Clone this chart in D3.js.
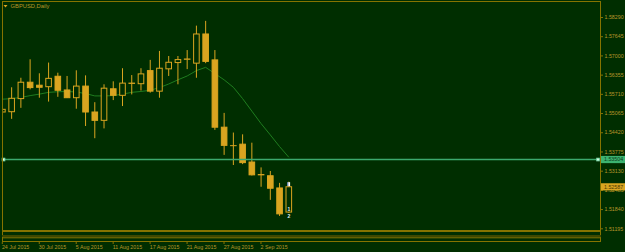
<!DOCTYPE html>
<html><head><meta charset="utf-8">
<script src="https://cdn.jsdelivr.net/npm/d3@7"></script>
<style>
html,body{margin:0;padding:0;background:#002e00;overflow:hidden}
svg{display:block}
text{font-family:"Liberation Sans",Arial,sans-serif}
</style></head>
<body><svg id="c" width="625" height="252"></svg>
<script>
const title = "GBPUSD,Daily";
const dates = ["24 Jul","27 Jul","28 Jul","29 Jul","30 Jul","31 Jul","3 Aug","4 Aug","5 Aug","6 Aug","7 Aug","10 Aug","11 Aug","12 Aug","13 Aug","14 Aug","17 Aug","18 Aug","19 Aug","20 Aug","21 Aug","24 Aug","25 Aug","26 Aug","27 Aug","28 Aug","31 Aug","1 Sep","2 Sep","3 Sep","4 Sep","7 Sep"];
const open  = [1.5510,1.5511,1.5555,1.5610,1.5600,1.5595,1.5630,1.5584,1.5558,1.5597,1.5510,1.5482,1.5588,1.5566,1.5606,1.5605,1.5649,1.5580,1.5655,1.5676,1.5687,1.5674,1.5772,1.5685,1.5459,1.5397,1.5402,1.5342,1.5300,1.5296,1.5255,1.5174];
const high  = [1.5530,1.5593,1.5625,1.5687,1.5640,1.5676,1.5642,1.5631,1.5650,1.5633,1.5543,1.5603,1.5613,1.5657,1.5634,1.5657,1.5685,1.5715,1.5698,1.5698,1.5718,1.5800,1.5816,1.5718,1.5507,1.5441,1.5435,1.5407,1.5324,1.5312,1.5272,1.5276];
const low   = [1.5466,1.5487,1.5524,1.5586,1.5558,1.5545,1.5561,1.5557,1.5521,1.5463,1.5422,1.5455,1.5550,1.5530,1.5569,1.5582,1.5575,1.5558,1.5631,1.5603,1.5654,1.5625,1.5674,1.5450,1.5366,1.5332,1.5335,1.5297,1.5259,1.5215,1.5161,1.5171];
const close = [1.5519,1.5556,1.5610,1.5592,1.5593,1.5623,1.5583,1.5558,1.5597,1.5510,1.5482,1.5590,1.5566,1.5607,1.5607,1.5638,1.5580,1.5657,1.5677,1.5686,1.5688,1.5772,1.5680,1.5459,1.5398,1.5397,1.5340,1.5299,1.5299,1.5254,1.5168,1.5259];
const ma    = [1.5553,1.5555,1.5559,1.5565,1.5570,1.5576,1.5578,1.5579,1.5577,1.5572,1.5564,1.5564,1.5565,1.5570,1.5576,1.5579,1.5583,1.5592,1.5604,1.5618,1.5631,1.5649,1.5660,1.5639,1.5618,1.5593,1.5555,1.5513,1.5471,1.5433,1.5394,1.5358];
const priceTicks = [1.58290,1.57645,1.57000,1.56355,1.55710,1.55065,1.54420,1.53775,1.53130,1.52485,1.51840,1.51195];
const dateTickIdx = [0,4,8,12,16,20,24,28];
const dateTickLabels = ["24 Jul 2015","30 Jul 2015","5 Aug 2015","11 Aug 2015","17 Aug 2015","21 Aug 2015","27 Aug 2015","2 Sep 2015"];
const hLevel = 1.53504;
const lastPrice = 1.52587;

const svg = d3.select("#c");
const gold = "#daa520", border = "#857300", txt = "#b8962a", bg = "#002e00";
const y = d3.scaleLinear().domain([1.51195, 1.58290]).range([228.3, 17]);
const x = d3.scaleLinear().domain([0, 31]).range([2.4, 288.8]);

// clip for main plot
svg.append("clipPath").attr("id","pc").append("rect").attr("x",2.5).attr("y",1.5).attr("width",597.5).attr("height",229);
const plot = svg.append("g").attr("clip-path","url(#pc)");

// moving average
plot.append("path").datum(ma)
  .attr("d", d3.line().x((d,i)=>x(i)).y(d=>y(d)))
  .attr("fill","none").attr("stroke","#1f7d1f").attr("stroke-width",1);

// candles
const bw = 5.6;
const idx = d3.range(dates.length);
const cg = plot.selectAll("g.c").data(idx).join("g");
cg.append("line")
  .attr("x1",i=>x(i)).attr("x2",i=>x(i))
  .attr("y1",i=>y(high[i])).attr("y2",i=>y(low[i]))
  .attr("stroke",gold).attr("stroke-width",1);
cg.append("rect")
  .attr("x",i=>x(i)-bw/2)
  .attr("y",i=>y(Math.max(open[i],close[i])))
  .attr("width",bw)
  .attr("height",i=>Math.max(0.01, Math.abs(y(open[i])-y(close[i]))))
  .attr("fill",i=>close[i]>=open[i]?bg:gold)
  .attr("stroke",gold).attr("stroke-width",1);

// horizontal level line
plot.append("line").attr("x1",2).attr("x2",600).attr("y1",y(hLevel)).attr("y2",y(hLevel))
  .attr("stroke","#3caa6e").attr("stroke-width",1.6);
[3.5, 598].forEach(px=>{
  svg.append("rect").attr("x",px-1.8).attr("y",y(hLevel)-1.8).attr("width",3.6).attr("height",3.6).attr("fill","#7fd9a8");
  svg.append("rect").attr("x",px-0.8).attr("y",y(hLevel)-0.8).attr("width",1.6).attr("height",1.6).attr("fill","#e8fff0");
});

// last bar markers
const lx = x(31);
svg.append("rect").attr("x",lx-1.5).attr("y",y(high[31])+0.5).attr("width",1.2).attr("height",4).attr("fill","#8fb0ff");
svg.append("rect").attr("x",lx-0.3).attr("y",y(high[31])+0.5).attr("width",1.6).attr("height",4).attr("fill","#ffffff");
svg.append("text").attr("x",lx).attr("y",210.5).attr("text-anchor","middle").attr("font-size",5).attr("font-weight","bold").attr("fill","#e0f0ff").text("1");
svg.append("text").attr("x",lx).attr("y",217.5).attr("text-anchor","middle").attr("font-size",5).attr("font-weight","bold").attr("fill","#e0f0ff").text("2");

// frame
svg.append("line").attr("x1",2).attr("x2",600.5).attr("y1",1.5).attr("y2",1.5).attr("stroke",border).attr("stroke-width",1);
svg.append("line").attr("x1",2.5).attr("x2",2.5).attr("y1",1).attr("y2",236).attr("stroke",border).attr("stroke-width",1);
svg.append("line").attr("x1",600.5).attr("x2",600.5).attr("y1",1).attr("y2",242).attr("stroke",border).attr("stroke-width",1);
svg.append("rect").attr("x",2).attr("y",230).attr("width",599).attr("height",2).attr("fill",border);
svg.append("rect").attr("x",2).attr("y",235).attr("width",599).attr("height",2.3).attr("fill","#3d4700");
svg.append("line").attr("x1",2).attr("x2",601).attr("y1",237.8).attr("y2",237.8).attr("stroke",border).attr("stroke-width",1);
svg.append("line").attr("x1",2).attr("x2",601).attr("y1",241.5).attr("y2",241.5).attr("stroke",border).attr("stroke-width",1);
svg.append("line").attr("x1",2.5).attr("x2",2.5).attr("y1",237).attr("y2",242).attr("stroke",border).attr("stroke-width",1);

// price axis
const ya = svg.append("g").attr("transform","translate(600.5,0)")
  .call(d3.axisRight(y).tickValues(priceTicks).tickFormat(d3.format(".5f")).tickSize(2.5).tickPadding(1.5));
ya.select(".domain").remove();
ya.selectAll("line").attr("stroke",border);
ya.selectAll("text").attr("fill",txt).attr("font-size",5.3).attr("font-family","'Liberation Sans',Arial,sans-serif");

// date axis
const xa = svg.append("g").attr("transform","translate(0,242)")
  .call(d3.axisBottom(x).tickValues(dateTickIdx).tickFormat((d,k)=>dateTickLabels[k]).tickSize(2).tickPadding(1));
xa.select(".domain").remove();
xa.selectAll("line").attr("stroke",border).attr("transform","translate(-0.6,0)");
xa.selectAll("text").attr("fill",txt).attr("font-size",5.3).attr("text-anchor","start").attr("dx",-1).attr("font-family","'Liberation Sans',Arial,sans-serif");

// price labels (level line, last price)
function tag(v, fill, tcol){
  const g = svg.append("g");
  g.append("rect").attr("x",601).attr("y",y(v)-3.6).attr("width",24).attr("height",7.2).attr("fill",fill);
  g.append("text").attr("x",604).attr("y",y(v)+1.9).attr("font-size",5.3).attr("fill",tcol).text(d3.format(".5f")(v));
}
tag(hLevel, "#3cb371", "#0b3a16");
tag(lastPrice, gold, "#4a3800");

// title
svg.append("path").attr("d","M3.5,5 L7.5,5 L5.5,7.5 Z").attr("fill",gold);
svg.append("text").attr("x",10.5).attr("y",8).attr("font-size",5.8).attr("fill",txt).text(title);
</script></body></html>
